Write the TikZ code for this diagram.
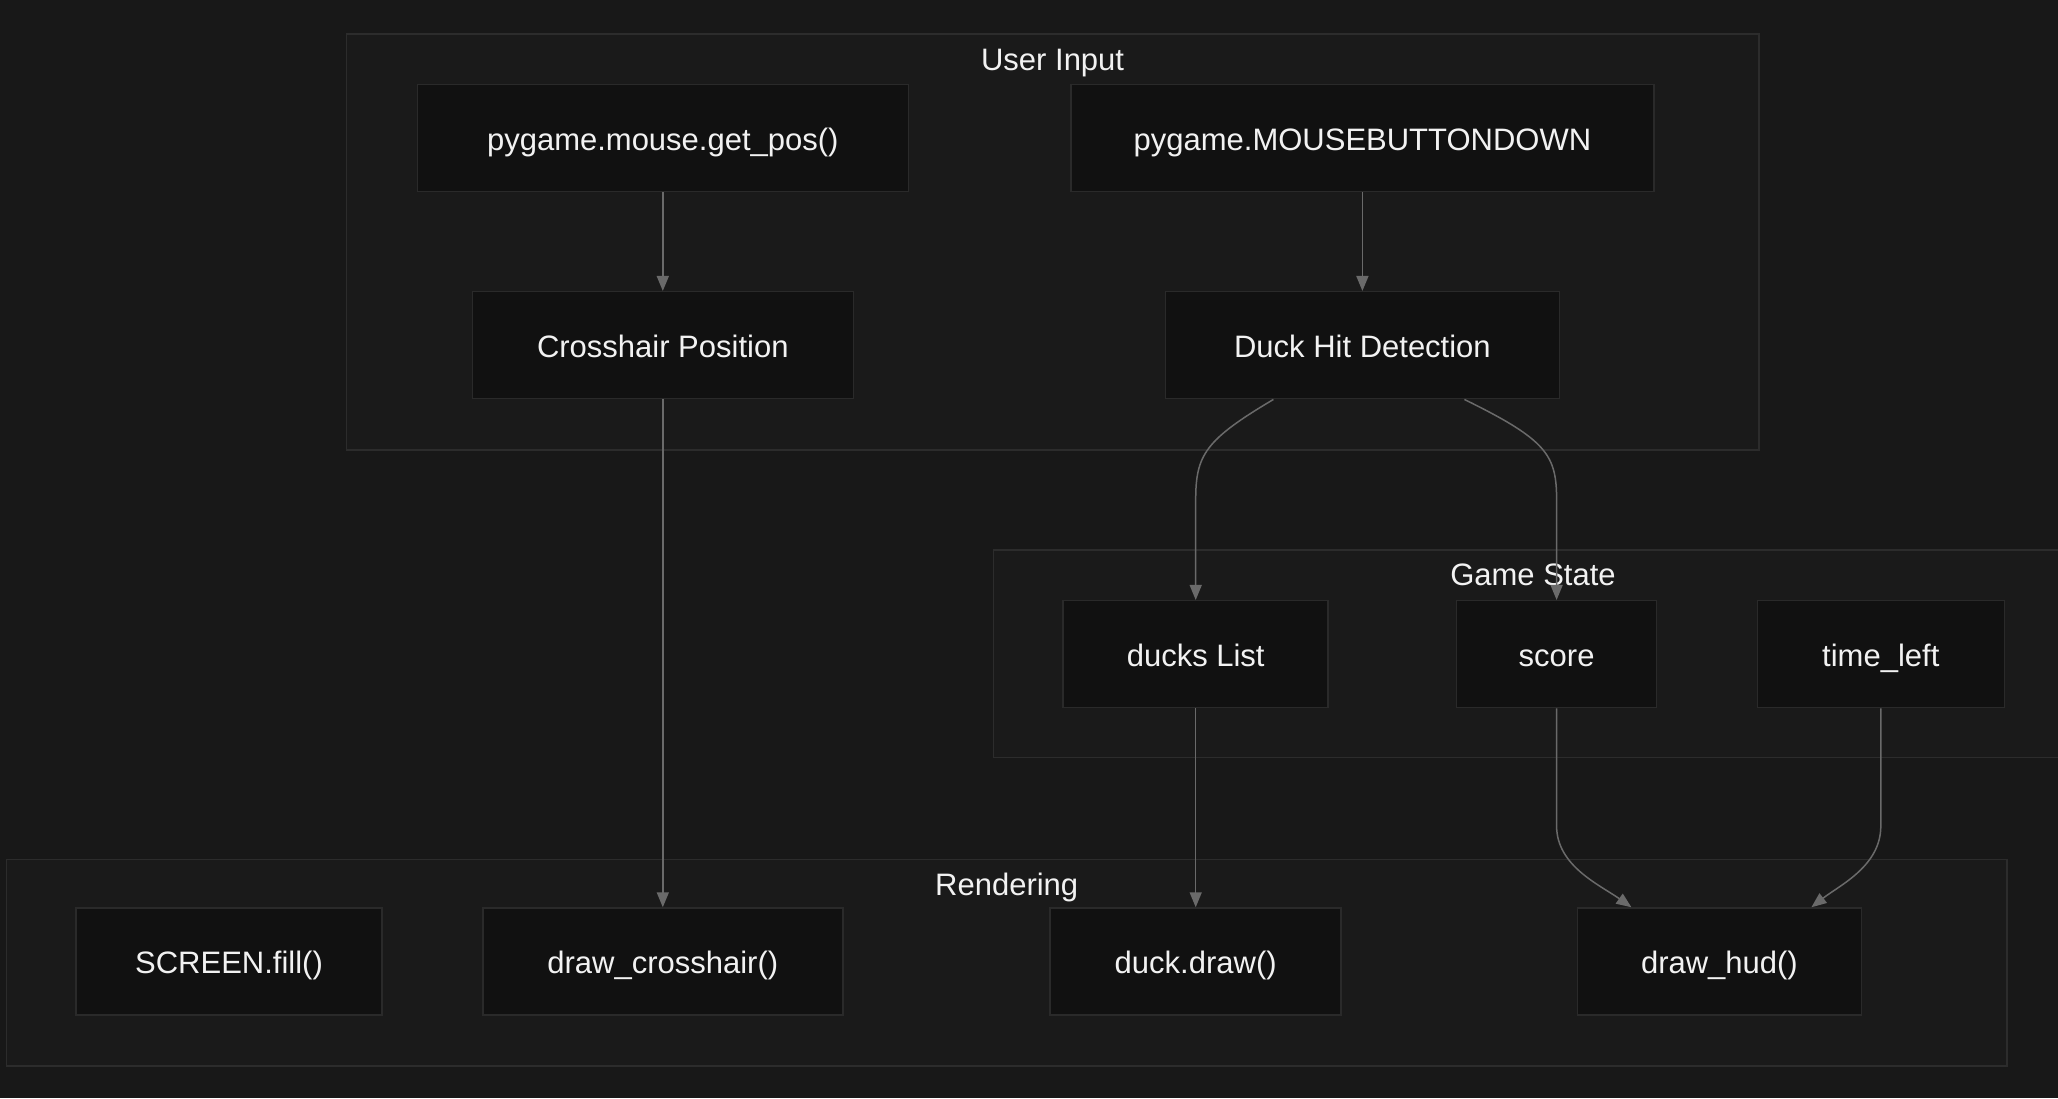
\documentclass[tikz,border=0pt]{standalone}
\usepackage{fontspec}
\setmainfont{Liberation Sans}
\usetikzlibrary{arrows.meta}
\definecolor{bgc}{HTML}{181818}
\definecolor{clfill}{HTML}{1A1A1A}
\definecolor{clline}{HTML}{2C2C2C}
\definecolor{ndfill}{HTML}{111111}
\definecolor{ndline}{HTML}{2A2A2A}
\definecolor{edgec}{HTML}{6A6A6A}
\definecolor{txt}{HTML}{F2F2F2}
\begin{document}
\begin{tikzpicture}[x=1pt,y=-1pt,
  cluster/.style={draw=clline,fill=clfill,line width=1.5pt},
  ctitle/.style={text=txt,font=\fontsize{31}{36}\selectfont,inner sep=0pt,anchor=base},
  box/.style={draw=ndline,fill=ndfill,line width=1.5pt,rectangle,inner sep=0pt,
    text=txt,font=\fontsize{31}{36}\selectfont,minimum height=107pt,
    text height=29.5pt,text depth=5pt},
  conn/.style={draw=edgec,line width=1.5pt,-{Triangle[length=15pt,width=12pt]}}]
\useasboundingbox[fill=bgc] (0,0) rectangle (2058,1098);
% clusters
\draw[cluster] (346.5,34) rectangle (1758.8,450.2);
\node[ctitle] (tUI) at (1052.6,70) {User Input};
\draw[cluster] (993.6,550) rectangle (2075,757.3);
\node[ctitle] (tGS) at (1533,585) {Game State};
\draw[cluster] (6.6,859.7) rectangle (2006.8,1065.8);
\node[ctitle] (tR) at (1006.7,895) {Rendering};
% nodes
\node[box,minimum width=491pt] (getpos) at (662.8,137.8) {pygame.mouse.get\_pos()};
\node[box,minimum width=583pt] (mbd) at (1362.4,137.8) {pygame.MOUSEBUTTONDOWN};
\node[box,minimum width=381pt] (cross) at (662.8,345.2) {Crosshair Position};
\node[box,minimum width=394pt] (hit) at (1362.4,345.2) {Duck Hit Detection};
\node[box,minimum width=265pt] (ducks) at (1195.7,654.2) {ducks List};
\node[box,minimum width=200pt] (score) at (1556.6,654.2) {score};
\node[box,minimum width=247pt] (time) at (1880.8,654.2) {time\_left};
\node[box,minimum width=306pt] (fill) at (229,961.5) {SCREEN.fill()};
\node[box,minimum width=360pt] (dcross) at (662.8,961.5) {draw\_crosshair()};
\node[box,minimum width=291pt] (ddraw) at (1195.7,961.5) {duck.draw()};
\node[box,minimum width=284pt] (hud) at (1719.4,961.5) {draw\_hud()};
% edges
\draw[conn] (getpos.south) -- (cross.north);
\draw[conn] (mbd.south) -- (hit.north);
\draw[conn] (cross.south) -- (dcross.north);
\draw[conn] ([xshift=-89pt]hit.south) .. controls (1205,440) and (1195.7,455) .. (1195.7,500) -- (ducks.north);
\draw[conn] ([xshift=102pt]hit.south) .. controls (1547,440) and (1556.6,455) .. (1556.6,500) -- (score.north);
\draw[conn] (ducks.south) -- (ddraw.north);
\draw[conn] (score.south) -- (1556.6,826) .. controls (1556.6,866) and (1600,885) .. ([xshift=-88pt]hud.north);
\draw[conn] (time.south) -- (1880.8,826) .. controls (1880.8,866) and (1840,885) .. ([xshift=92pt]hud.north);
\end{tikzpicture}
\end{document}
